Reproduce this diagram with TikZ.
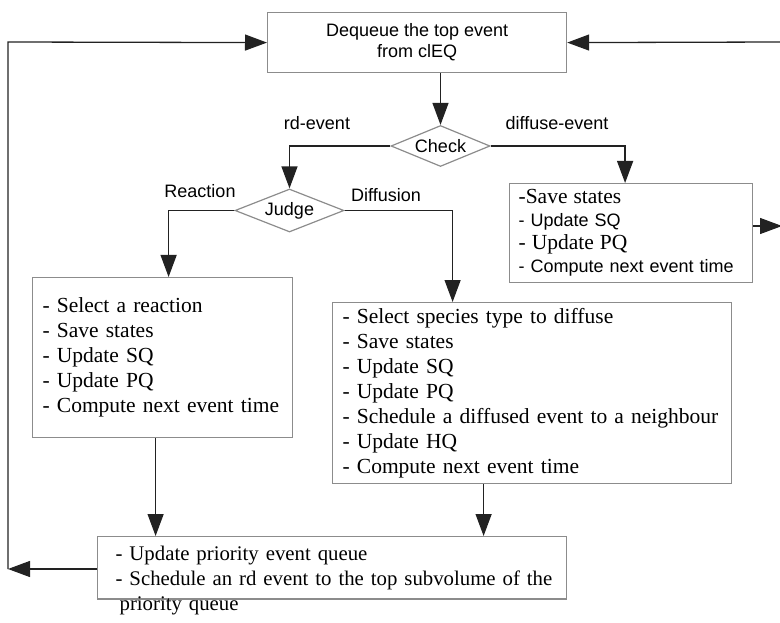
\documentclass[tikz,border=0pt]{standalone}
\usepackage{fontspec}
\setmainfont{Liberation Serif}
\setsansfont{Liberation Sans}
\usepackage{tikz}
\usetikzlibrary{arrows.meta,shapes.geometric}

\begin{document}
\begin{tikzpicture}[
  x=1pt, y=-1pt,
  >={Triangle[length=22pt,width=16pt]},
  stepbox/.style={
    draw=edgegray,
    line width=1.2pt,
    rectangle,
    anchor=north west,
    inner ysep=0pt,
    inner xsep=10pt,
    align=left,
    font=\rmfamily\fontsize{21.5}{25}\selectfont
  },
  headbox/.style={
    draw=edgegray,
    line width=1.2pt,
    rectangle,
    anchor=north west,
    inner sep=0pt,
    align=center,
    font=\sffamily\fontsize{18}{21}\selectfont
  },
  decision/.style={
    draw=edgegray,
    line width=1.2pt,
    diamond,
    aspect=2.5,
    inner sep=0pt,
    font=\sffamily\fontsize{18}{21}\selectfont
  },
  branch/.style={font=\sffamily\fontsize{18}{21}\selectfont, inner sep=0pt},
  flow/.style={->, line width=1.3pt, draw=linegray}
]
\definecolor{edgegray}{HTML}{8C8C8C}
\definecolor{linegray}{HTML}{222222}

\useasboundingbox (0,0) rectangle (780,623);
\clip (0,0) rectangle (780,623);

\node[headbox, minimum width=299pt, minimum height=60pt] (dequeue) at (267,12) {Dequeue the top event\\from clEQ};

\node[decision, minimum width=99pt, minimum height=41pt] (check) at (440.5,146) {Check};
\node[decision, minimum width=109pt, minimum height=43pt] (judge) at (289.5,210.5) {Judge};

\node[branch] (lblrd) at (317,123) {rd-event};
\node[branch] (lbldiffuse) at (557,123) {diffuse-event};
\node[branch] (lblreact) at (200,191) {Reaction};
\node[branch] (lbldiffusion) at (386,195) {Diffusion};

% diffuse-event handling, fonts as in the original
\node[stepbox, inner xsep=9pt, minimum width=243pt, minimum height=99pt, text width=225pt,
  font=\sffamily\fontsize{18}{23}\selectfont] (diffuse) at (509,183) {%
  {\rmfamily\fontsize{21.5}{23}\selectfont -Save states}\\
  - Update SQ\\
  {\rmfamily\fontsize{21.5}{23}\selectfont - Update PQ}\\
  \mbox{- Compute next event time}};

\node[stepbox, minimum width=260pt, minimum height=160pt, text width=240pt] (react) at (32,277) {%
  - Select a reaction\\
  - Save states\\
  - Update SQ\\
  - Update PQ\\
  \mbox{- Compute next event time}};

\node[stepbox, minimum width=399pt, minimum height=181pt, text width=379pt] (diffusion) at (332,302) {%
  - Select species type to diffuse\\
  - Save states\\
  - Update SQ\\
  - Update PQ\\
  \mbox{- Schedule a diffused event to a neighbour}\\
  - Update HQ\\
  - Compute next event time};

\node[stepbox, inner xsep=9pt, inner ysep=9pt, minimum width=469pt, text width=451pt, text depth=30pt,
  font=\rmfamily\fontsize{20.8}{25}\selectfont] (update) at (97,536) {%
  \hspace*{9pt}- Update priority event queue\\
  \hspace*{9pt}\mbox{- Schedule an rd event to the top subvolume of the}\\
  \hspace*{13pt}priority queue};

\coordinate (ltop) at (8,42);
\coordinate (lbot) at (8,569);
\coordinate (rtop) at (781,42);
\coordinate (rout) at (782,226);

\draw[flow] (check.north |- dequeue.south) -- (check.north);
\draw[flow] (check.west) -| (judge.north);
\draw[flow] (check.east) -| ([xshift=-6pt]diffuse.north);
\draw[flow] (judge.west) -| ([xshift=6pt]react.north);
\draw[flow] (judge.east) -| ([xshift=-79.5pt]diffusion.north);
\draw[flow] ([xshift=-7pt]react.south) -- ([xshift=-7pt]react.south |- update.north);
\draw[flow] ([xshift=-48.5pt]diffusion.south) -- ([xshift=-48.5pt]diffusion.south |- update.north);

% loops back to the queue
\draw[flow] (lbot -| update.west) -- (lbot);
\draw[flow] (lbot) -- (ltop) -- (dequeue.west);
\draw[flow] (rtop) -- (dequeue.east);
\draw[flow] (rout -| diffuse.east) -- (rout);
\end{tikzpicture}
\end{document}
